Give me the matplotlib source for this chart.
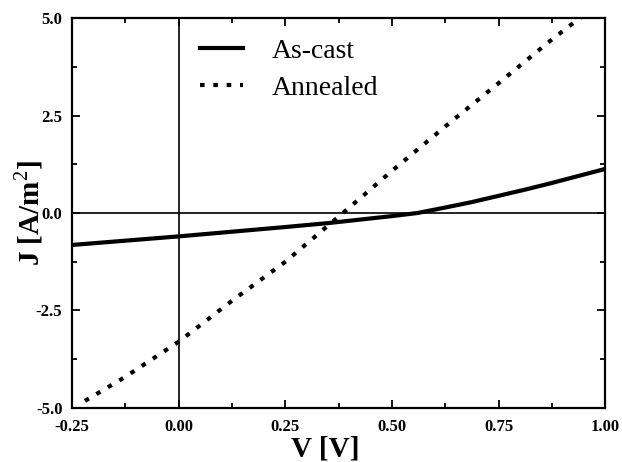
import matplotlib
matplotlib.use('Agg')
import matplotlib.pyplot as plt
import numpy as np
from matplotlib.ticker import MultipleLocator, FormatStrFormatter

plt.rcParams['font.family'] = ['Liberation Serif', 'DejaVu Serif']
plt.rcParams['mathtext.fontset'] = 'custom'
plt.rcParams['mathtext.rm'] = 'Liberation Serif'

# J-V curves
v_ascast = [-0.25, -0.125, 0.0, 0.125, 0.25, 0.35, 0.45, 0.5, 0.56, 0.625, 0.6875, 0.75, 0.8125, 0.875, 0.9375, 1.0]
j_ascast = [-0.82, -0.71, -0.6, -0.48, -0.36, -0.26, -0.14, -0.08, 0.0, 0.14, 0.28, 0.44, 0.6, 0.77, 0.95, 1.13]
v_annealed = [-0.22, -0.125, 0.0, 0.125, 0.25, 0.385, 0.5, 0.625, 0.75, 0.875, 0.95]
j_annealed = [-4.82, -4.2, -3.3, -2.25, -1.25, 0.0, 1.08, 2.22, 3.33, 4.45, 5.08]

fig = plt.figure(figsize=(6.22, 4.62), dpi=100)
ax = fig.add_axes([0.116, 0.117, 0.857, 0.844])

ax.axhline(0, color='black', lw=1.2)
ax.axvline(0, color='black', lw=1.2)

ax.plot(v_ascast, j_ascast, color='black', lw=3, label='As-cast', solid_joinstyle='round')
ax.plot(v_annealed, j_annealed, color='black', lw=3, linestyle=(0, (1.1, 2.1)), label='Annealed')

ax.set_xlim(-0.25, 1.0)
ax.set_ylim(-5.0, 5.0)
ax.xaxis.set_major_locator(MultipleLocator(0.25))
ax.xaxis.set_minor_locator(MultipleLocator(0.125))
ax.yaxis.set_major_locator(MultipleLocator(2.5))
ax.yaxis.set_minor_locator(MultipleLocator(1.25))
ax.xaxis.set_major_formatter(FormatStrFormatter('%.2f'))
ax.yaxis.set_major_formatter(FormatStrFormatter('%.1f'))
ax.tick_params(which='both', direction='in', top=True, right=True, width=1.3)
ax.tick_params(which='major', length=6, labelsize=12)
ax.tick_params(axis='x', which='major', pad=8)
ax.tick_params(axis='y', which='major', pad=7)
ax.tick_params(which='minor', length=3.5)
for lab in ax.get_xticklabels() + ax.get_yticklabels():
    lab.set_fontweight('bold')
for s in ax.spines.values():
    s.set_linewidth(1.6)

ax.set_xlabel('V [V]', fontsize=21, fontweight='bold')
ax.xaxis.set_label_coords(0.475, -0.07)
ax.set_ylabel(r'J [A/m$^{\rm 2}$]', fontsize=21, fontweight='bold')
ax.yaxis.set_label_coords(-0.05, 0.5)

leg = ax.legend(loc='upper left', bbox_to_anchor=(0.198, 1.005), frameon=False, fontsize=20,
                handlelength=1.55, handletextpad=1.05, labelspacing=0.42, borderpad=0.3)

fig.savefig('out.png', dpi=100)
